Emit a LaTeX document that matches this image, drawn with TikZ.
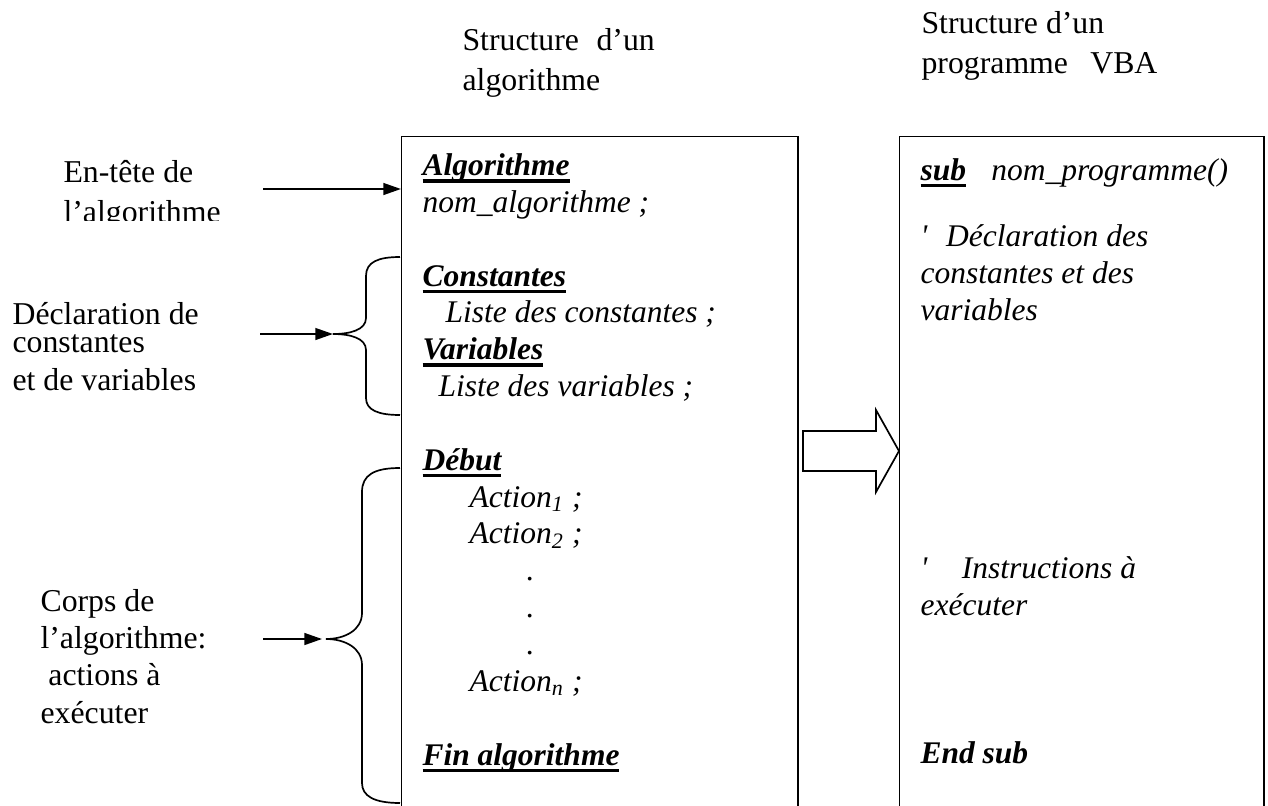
\documentclass[tikz,border=0pt]{standalone}
\usepackage{fontspec}
\setmainfont{Liberation Serif}
\usetikzlibrary{arrows.meta}

\newcommand{\ulb}[1]{\setbox0\hbox{#1}\rlap{\rule[-2.5pt]{\wd0}{1.2pt}}\box0}

\begin{document}
\begin{tikzpicture}[x=0.0125cm, y=-0.0125cm,
    heading/.style={anchor=base west, align=left, inner sep=0pt, font=\fontsize{11.3}{14.2}\selectfont},
    sidelabel/.style={anchor=base west, align=left, inner sep=0pt, font=\fontsize{11.3}{13.2}\selectfont},
    boxtext/.style={anchor=base west, align=left, inner sep=0pt, font=\fontsize{11.2}{13.1}\selectfont\itshape},
    column/.style={draw, line width=0.5pt, anchor=north west, minimum height=9cm, inner sep=0pt},
    pointer/.style={-{Triangle[length=6.3pt,width=4.2pt]}, line width=0.7pt},
    brace/.style={line width=0.6pt},
    bigarrow/.style={draw, line width=0.6pt, line join=miter}
]
\useasboundingbox (0,0) rectangle (1268,805);
\clip (0,0) rectangle (1268,805);

% Titles (anchored on the baseline of their last line)
\node[heading] (algotitle) at (462,90) {Structure\hspace{0.55em}d’un\\algorithme};
\node[heading] (progtitle) at (921,73) {Structure d’un\\programme\hspace{0.7em}VBA};

% Columns
\node[column, minimum width=4.95cm] (algo) at (401,136) {};
\node[column, minimum width=4.55cm] (prog) at (899,136) {};

% Left column: algorithm
\node[boxtext] (algotext) at (422,765) {\ulb{\textbf{Algorithme}}\\
nom\_algorithme ;\\[13.1pt]
\ulb{\textbf{Constantes}}\\
\hspace*{8.2pt}Liste des constantes ;\\
\ulb{\textbf{Variables}}\\
\hspace*{5.7pt}Liste des variables ;\\[13.1pt]
\ulb{\textbf{Début}}\\
\hspace*{16.7pt}Action\textsubscript{1} ;\\
\hspace*{16.7pt}Action\textsubscript{2} ;\\
\hspace*{37pt}.\\
\hspace*{37pt}.\\
\hspace*{37pt}.\\
\hspace*{16.7pt}Action\textsubscript{n} ;\\[13.1pt]
\ulb{\textbf{Fin algorithme}}};

% Right column: VBA
\node[boxtext] (subline) at (920,180) {\ulb{\textbf{sub}}\hspace{0.8em}nom\_programme()};
\node[boxtext] (vbadecl) at (920,320) {\textquotesingle\hspace{0.6em}Déclaration des\\constantes et des\\variables};
\node[boxtext] (vbainstr) at (920,615) {\textquotesingle\hspace{1.1em}Instructions à\\exécuter};
\node[boxtext] (vbaend) at (920,763) {\textbf{End sub}};

% Block arrow between the columns
\coordinate (bigtip) at (prog.west |- 0,451);
\draw[bigarrow] (803,431) -- (876,431) -- (876,410) -- (bigtip) -- (876,492) -- (876,471) -- (803,471) -- cycle;

% Side labels
\begin{scope}
\clip (0,0) rectangle (395,220);
\node[sidelabel, font=\fontsize{11.3}{13.9}\selectfont] (headlabel) at (63,222) {En-tête de\\l’algorithme};
\end{scope}
\node[sidelabel] (decllabel) at (12,390) {Déclaration de\\[-3.2pt]constantes\\et de variables};
\node[sidelabel] (bodylabel) at (40,723) {Corps de\\l’algorithme:\\\hspace*{2.8pt}actions à\\exécuter};

% Pointers
\coordinate (headstart) at (263,189);
\coordinate (declstart) at (260,334);
\coordinate (decltip) at (333,334);
\coordinate (bodystart) at (263,639);
\coordinate (bodytip) at (326,639);
\draw[pointer] (headstart) -- (algo.west |- headstart);
\draw[pointer] (declstart) -- (decltip);
\draw[pointer, shorten >=1.4pt] (bodystart) -- (bodytip);

% Braces
\draw[brace] (400,257) .. controls (378,257) and (366,262) .. (366,276) -- (366,318)
  .. controls (366,330) and (350,334) .. (decltip)
  .. controls (350,334) and (366,338) .. (366,350) -- (366,398)
  .. controls (366,410) and (378,415) .. (400,415);
\draw[brace] (400,468) .. controls (374,468) and (362,475) .. (362,492) -- (362,613)
  .. controls (362,630) and (345,639) .. (bodytip)
  .. controls (345,639) and (362,648) .. (362,665) -- (362,783)
  .. controls (362,796) and (374,803) .. (400,803);

\end{tikzpicture}
\end{document}
